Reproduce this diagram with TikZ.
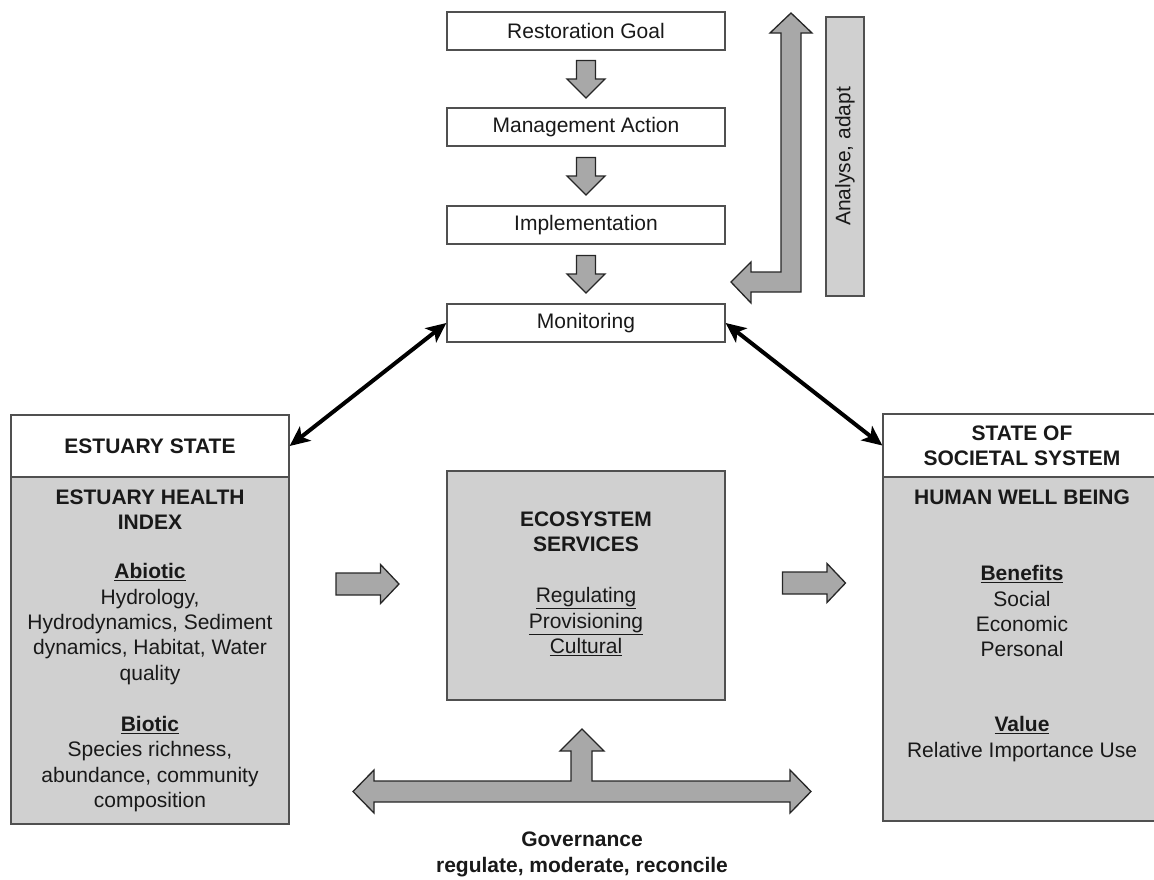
\documentclass[tikz,border=0pt]{standalone}
\usepackage{fontspec}
\setmainfont{Liberation Sans}
\usetikzlibrary{arrows.meta,calc}

\definecolor{boxgray}{RGB}{208,208,208}
\definecolor{arrowgray}{RGB}{168,168,168}
\definecolor{edgegray}{RGB}{80,80,80}
\definecolor{ink}{RGB}{25,25,25}

\newcommand{\ul}[1]{\underline{#1}}

\tikzset{
  txt/.style={font=\fontsize{21}{25.3}\selectfont, text=ink, align=center, inner sep=0pt},
  stepbox/.style={draw=edgegray, line width=1.3pt, fill=white, minimum width=278pt,
    minimum height=38pt, inner sep=0pt, font=\fontsize{21}{25.3}\selectfont, text=ink},
  graybox/.style={draw=edgegray, line width=1.3pt, fill=boxgray, inner sep=0pt},
  whitebox/.style={draw=edgegray, line width=1.3pt, fill=white, inner sep=0pt},
  blockarrow/.style={draw=black!85, line width=1.3pt, fill=arrowgray, line join=miter},
  link/.style={line width=4pt, draw=black,
    {Stealth[length=20pt,width=18pt,inset=5pt]}-{Stealth[length=20pt,width=18pt,inset=5pt]}},
  pics/downarrow/.style={code={
    \path[blockarrow] (-9.5,-18.5) -- (9.5,-18.5) -- (9.5,0) -- (19,0) -- (0,19)
      -- (-19,0) -- (-9.5,0) -- cycle;}},
  pics/rightarrow/.style={code={
    \path[blockarrow] (-31.5,-11) -- (13,-11) -- (13,-19.5) -- (31.5,0) -- (13,19.5)
      -- (13,11) -- (-31.5,11) -- cycle;}}
}

\begin{document}
\begin{tikzpicture}[x=1pt,y=-1pt]
\useasboundingbox (0,0) rectangle (1154,879);
\clip (0,0) rectangle (1154,879);

% ---- adaptive management chain ----
\node[stepbox] (goal)   at (586,31)  {Restoration Goal};
\node[stepbox] (action) at (586,127) {Management Action};
\node[stepbox] (impl)   at (586,225) {Implementation};
\node[stepbox] (mon)    at (586,323) {Monitoring};

\pic at ($(goal.south)!0.5!(action.north)$) {downarrow};
\pic at ($(action.south)!0.5!(impl.north)$) {downarrow};
\pic at ($(impl.south)!0.5!(mon.north)$) {downarrow};

% feedback loop back from monitoring
\path[blockarrow] (731,282) -- (751,262) -- (751,272) -- (781,272) -- (781,33)
  -- (770,33) -- (791,13) -- (812,33) -- (801,33) -- (801,292) -- (751,292)
  -- (751,303) -- cycle;
\node[graybox, minimum width=38pt, minimum height=279pt] (adapt) at (845,156.5) {};
\node[txt, rotate=90] (adapttxt) at (adapt.center) {Analyse, adapt};

% ---- estuary state ----
\node[graybox, minimum width=278pt, minimum height=347pt] (estbody) at (150,650.5) {};
\node[whitebox, minimum width=278pt, minimum height=62pt] (esthead) at (150,446) {};
\node[txt, font=\fontsize{21}{25.3}\selectfont\bfseries] (esttitle) at (esthead.center) {ESTUARY STATE};
\node[txt, font=\fontsize{21}{25.3}\selectfont\bfseries] (ehi) at (150,509.5) {ESTUARY HEALTH\\INDEX};
\node[txt] (abiotic) at (150,624) {\ul{\textbf{Abiotic}}\\Hydrology,\\Hydrodynamics, Sediment\\dynamics, Habitat, Water\\quality};
\node[txt] (biotic) at (150,764) {\ul{\textbf{Biotic}}\\Species richness,\\abundance, community\\composition};

% ---- ecosystem services ----
\node[graybox, minimum width=278pt, minimum height=229pt] (eco) at (586,585.5) {};
\node[txt, font=\fontsize{21}{25.3}\selectfont\bfseries] (ecotitle) at (586,531.5) {ECOSYSTEM\\SERVICES};
\node[txt] (ecotypes) at (586,621.5) {\ul{Regulating}\\\ul{Provisioning}\\\ul{Cultural}};

% ---- societal system ----
\node[graybox, minimum width=278pt, minimum height=344pt] (socbody) at (1022,649) {};
\node[whitebox, minimum width=278pt, minimum height=63pt] (sochead) at (1022,445.5) {};
\node[txt, font=\fontsize{21}{25.3}\selectfont\bfseries] (soctitle) at (sochead.center) {STATE OF\\SOCIETAL SYSTEM};
\node[txt, font=\fontsize{21}{25.3}\selectfont\bfseries] (hwb) at (1022,497) {HUMAN WELL BEING};
\node[txt] (benefits) at (1022,611.3) {\ul{\textbf{Benefits}}\\Social\\Economic\\Personal};
\node[txt] (value) at (1022,739) {\ul{\textbf{Value}}\\Relative Importance Use};

% ---- flows between the three systems ----
\pic at (367.5,584) {rightarrow};
\pic at (814,583) {rightarrow};

\draw[link] (mon.west) -- (esthead.east);
\draw[link] (mon.east) -- (sochead.west);

% governance arrow
\path[blockarrow] (353,791.5) -- (374,770) -- (374,781) -- (571,781) -- (571,751)
  -- (560,751) -- (582,729) -- (604,751) -- (592,751) -- (592,781) -- (790,781)
  -- (790,770) -- (811,791.5) -- (790,813) -- (790,802) -- (374,802) -- (374,813)
  -- cycle;
\node[txt, font=\fontsize{21}{25.3}\selectfont\bfseries] (gov) at (582,854.5) {Governance\\regulate, moderate, reconcile};
\end{tikzpicture}
\end{document}
